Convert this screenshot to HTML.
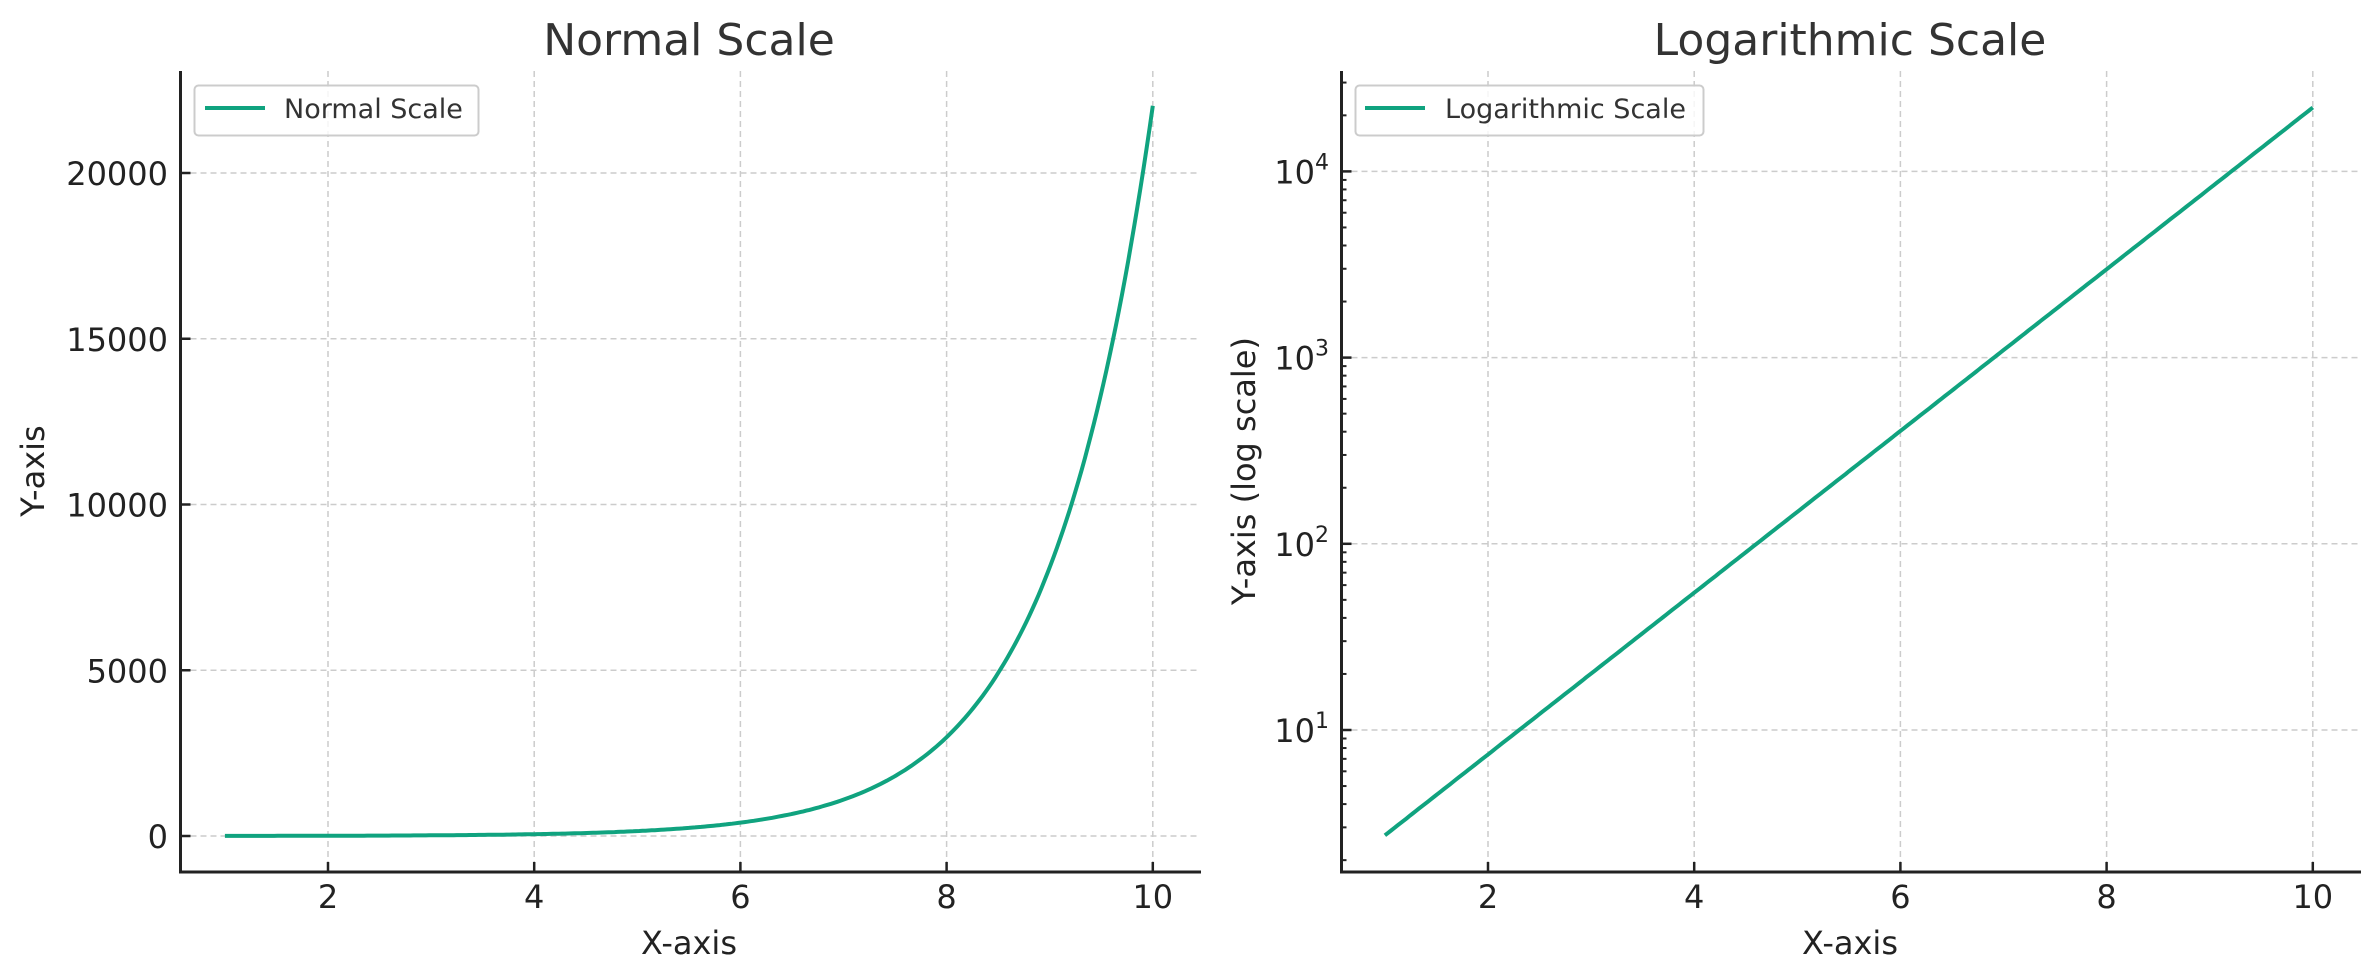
<!DOCTYPE html>
<html><head><meta charset="utf-8"><style>
html,body{margin:0;padding:0;background:#fff;}
svg{display:block;font-family:"DejaVu Sans","Liberation Sans",sans-serif;}
</style></head><body>
<svg id="s" width="2379" height="980" viewBox="0 0 2379 980" xmlns="http://www.w3.org/2000/svg">
<rect width="2379" height="980" fill="#fff"/>
<g id="g"></g>
<text x="689" y="55" font-size="44" fill="#333" text-anchor="middle">Normal Scale</text>
<text x="1850" y="55" font-size="44" fill="#333" text-anchor="middle">Logarithmic Scale</text>
<text x="689" y="954" font-size="32" fill="#222" text-anchor="middle">X-axis</text>
<text x="1850" y="954" font-size="32" fill="#222" text-anchor="middle">X-axis</text>
<text transform="translate(44,471) rotate(-90)" font-size="32" fill="#222" text-anchor="middle">Y-axis</text>
<text transform="translate(1255,471) rotate(-90)" font-size="32" fill="#222" text-anchor="middle">Y-axis (log scale)</text>
<rect x="194.5" y="85.5" width="284" height="50" rx="4" fill="#fff" fill-opacity="0.8" stroke="#ccc" stroke-width="2"/>
<line x1="205" y1="108" x2="265" y2="108" stroke="#10a37f" stroke-width="4"/>
<text x="284" y="118" font-size="27" fill="#333">Normal Scale</text>
<rect x="1355.5" y="85.5" width="348" height="50" rx="4" fill="#fff" fill-opacity="0.8" stroke="#ccc" stroke-width="2"/>
<line x1="1365" y1="108" x2="1425" y2="108" stroke="#10a37f" stroke-width="4"/>
<text x="1445" y="118" font-size="27" fill="#333">Logarithmic Scale</text>
</svg>
<script>
(function(){
var NS="http://www.w3.org/2000/svg",g=document.getElementById('g');
function el(t,a,txt){var e=document.createElementNS(NS,t);for(var k in a)e.setAttribute(k,a[k]);if(txt!=null)e.textContent=txt;g.appendChild(e);return e;}
var U=103.1;
function X1(x){return 328+(x-2)*U;}
function X2(x){return 1488+(x-2)*U;}
var T=71,B=872;
function Y1(y){return 836-y*165.75/5000;}
function Y2(y){return 730-(Math.log10(y)-1)*186.2;}
// grid
[2,4,6,8,10].forEach(function(x){
 el('line',{x1:X1(x),y1:T,x2:X1(x),y2:B,stroke:'#ccc','stroke-width':1.5,'stroke-dasharray':'6,4'});
 el('line',{x1:X2(x),y1:T,x2:X2(x),y2:B,stroke:'#ccc','stroke-width':1.5,'stroke-dasharray':'6,4'});
});
[0,5000,10000,15000,20000].forEach(function(y){
 el('line',{x1:180.5,y1:Y1(y),x2:1200,y2:Y1(y),stroke:'#ccc','stroke-width':1.5,'stroke-dasharray':'6,4'});
});
[10,100,1000,10000].forEach(function(y){
 el('line',{x1:1341.5,y1:Y2(y),x2:2360,y2:Y2(y),stroke:'#ccc','stroke-width':1.5,'stroke-dasharray':'6,4'});
});
// curves
var p1='',p2='';
for(var i=0;i<=300;i++){var x=1+9*i/300,y=Math.exp(x);
 p1+=(i?'L':'M')+X1(x).toFixed(1)+','+Y1(y).toFixed(1);
 p2+=(i?'L':'M')+X2(x).toFixed(1)+','+Y2(y).toFixed(1);}
el('path',{d:p1,fill:'none',stroke:'#10a37f','stroke-width':4});
el('path',{d:p2,fill:'none',stroke:'#10a37f','stroke-width':4});
// axes
el('line',{x1:180.5,y1:T,x2:180.5,y2:B+1.5,stroke:'#222','stroke-width':3});
el('line',{x1:179,y1:B,x2:1201,y2:B,stroke:'#222','stroke-width':3});
el('line',{x1:1341.5,y1:T,x2:1341.5,y2:B+1.5,stroke:'#222','stroke-width':3});
el('line',{x1:1340,y1:B,x2:2361,y2:B,stroke:'#222','stroke-width':3});
// x ticks
[2,4,6,8,10].forEach(function(x){
 [[X1(x)],[X2(x)]].forEach(function(a){var xx=a[0];
  el('line',{x1:xx,y1:B,x2:xx,y2:B-10,stroke:'#222','stroke-width':2.5});
  el('text',{x:xx,y:908,'font-size':32,fill:'#222','text-anchor':'middle'},String(x));});
});
// y ticks left
[0,5000,10000,15000,20000].forEach(function(y){
 el('line',{x1:180.5,y1:Y1(y),x2:190.5,y2:Y1(y),stroke:'#222','stroke-width':2.5});
 el('text',{x:168,y:Y1(y)+12,'font-size':32,fill:'#222','text-anchor':'end'},String(y));
});
// y ticks right
for(var d=0;d<=4;d++){for(var m=1;m<=9;m++){var v=m*Math.pow(10,d),yy=Y2(v);
 if(yy<T||yy>B)continue;
 el('line',{x1:1341.5,y1:yy,x2:1341.5+(m==1?10:5),y2:yy,stroke:'#222','stroke-width':m==1?2.5:2});}}
[1,2,3,4].forEach(function(e){var yy=Y2(Math.pow(10,e));
 var t=el('text',{x:1329,y:yy+12,'font-size':32,fill:'#222','text-anchor':'end'});
 var a=document.createElementNS(NS,'tspan');a.textContent='10';t.appendChild(a);
 var b=document.createElementNS(NS,'tspan');b.setAttribute('font-size','22');b.setAttribute('dy','-14');b.textContent=String(e);t.appendChild(b);
});
})();
</script>
</body></html>
